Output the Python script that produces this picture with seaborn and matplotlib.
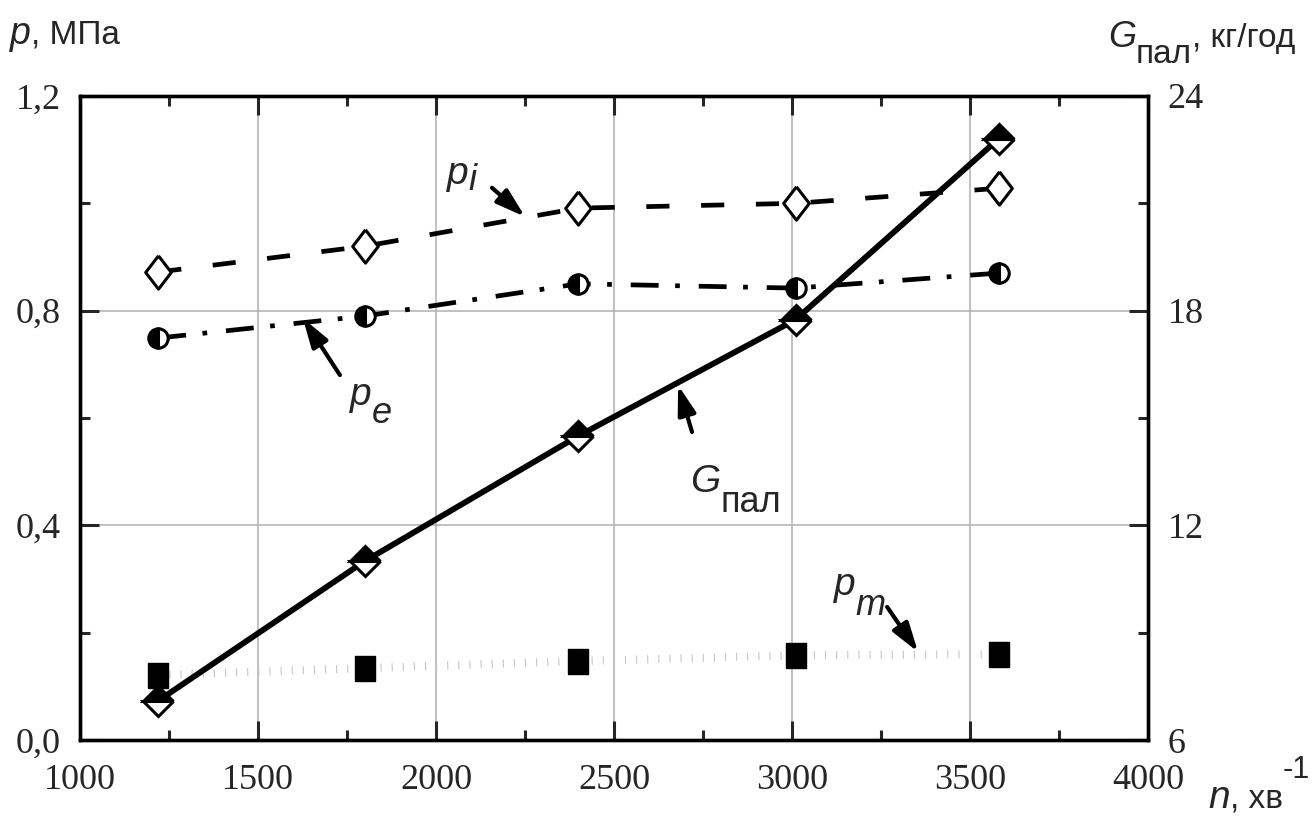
import numpy as np
import matplotlib
matplotlib.use("Agg")
import matplotlib.pyplot as plt
import seaborn as sns
from matplotlib.ticker import MultipleLocator, FuncFormatter
from matplotlib.transforms import IdentityTransform

# Data
n = [1220, 1800, 2400, 3010, 3580]
p_i = [0.872, 0.920, 0.991, 1.000, 1.028]
p_e = [0.749, 0.790, 0.850, 0.842, 0.870]
p_m = [0.121, 0.134, 0.147, 0.158, 0.160]
G_pal = [7.1, 11.0, 14.5, 17.75, 22.8]

x_ticks = [1000, 1500, 2000, 2500, 3000, 3500, 4000]
p_ticks = [0.0, 0.4, 0.8, 1.2]
g_ticks = [6, 12, 18, 24]

W, H = 1316, 816

sns.set_style("white")
plt.rcParams['font.family'] = ['Liberation Sans', 'DejaVu Sans']

fig = plt.figure(figsize=(W / 100, H / 100), dpi=100)
ax = fig.add_axes([0.0608, 0.0931, 0.8116, 0.7893])
ax2 = ax.twinx()

# custom marker shapes
tall_diamond = [(0, 1), (0.77, 0), (0, -1), (-0.77, 0), (0, 1)]
tall_square = [(-0.4, -0.5), (0.4, -0.5), (0.4, 0.5), (-0.4, 0.5), (-0.4, -0.5)]

# p_m : dotted grey line with black squares
sns.lineplot(x=n, y=p_m, ax=ax, color='#c4c4c4', lw=5.8,
             linestyle=(0, (0.13, 1.25)), dash_capstyle='butt',
             marker=tall_square, markersize=18, markerfacecolor='k',
             markeredgecolor='k', markeredgewidth=1, zorder=3)
# p_e : dash-dot line with half-filled circles
sns.lineplot(x=n, y=p_e, ax=ax, color='k', lw=3.4,
             linestyle=(0, (5.9, 3.5, 1.0, 4.0)), dash_capstyle='butt',
             marker='o', markersize=14, fillstyle='left',
             markerfacecolor='k', markerfacecoloralt='white',
             markeredgecolor='k', markeredgewidth=2.2, zorder=4)
# p_i : dashed line with open diamonds
sns.lineplot(x=n, y=p_i, ax=ax, color='k', lw=3.4,
             linestyle=(0, (4.9, 6.7)), dash_capstyle='butt',
             marker=tall_diamond, markersize=24, markerfacecolor='white',
             markeredgecolor='k', markeredgewidth=2.2, zorder=4)
# G_pal on the right axis
sns.lineplot(x=n, y=G_pal, ax=ax2, color='k', lw=4.2,
             marker='D', markersize=15, fillstyle='top',
             markerfacecolor='k', markerfacecoloralt='white',
             markeredgecolor='k', markeredgewidth=2.2, zorder=4)

# axes limits and ticks
ax.set_xlim(1000, 4000)
ax.set_ylim(0, 1.2)
ax2.set_ylim(6, 24)
ax.set_xticks(x_ticks)
ax.set_yticks(p_ticks)
ax2.set_yticks(g_ticks)
ax.xaxis.set_minor_locator(MultipleLocator(250))
ax.yaxis.set_minor_locator(MultipleLocator(0.2))
ax2.yaxis.set_minor_locator(MultipleLocator(3))
ax.yaxis.set_major_formatter(FuncFormatter(lambda v, p: f"{v:.1f}".replace('.', ',')))
ax.set_xlabel('')
ax.set_ylabel('')
ax2.set_ylabel('')

ax.grid(True, which='major', color='#b0b0b0', lw=1.1)
ax.set_axisbelow(True)

ax.tick_params(axis='x', which='both', direction='in', top=True, bottom=True,
               width=2.2, pad=17)
ax.tick_params(axis='x', which='major', length=14)
ax.tick_params(axis='x', which='minor', length=7)
ax.tick_params(axis='y', which='both', direction='in', left=True, right=False,
               width=2.2, pad=14)
ax.tick_params(axis='y', which='major', length=14)
ax.tick_params(axis='y', which='minor', length=7)
ax2.tick_params(axis='y', which='both', direction='in', right=True, left=False,
                width=2.2, pad=14)
ax2.tick_params(axis='y', which='major', length=14)
ax2.tick_params(axis='y', which='minor', length=7)
for lab in ax.get_xticklabels() + ax.get_yticklabels() + ax2.get_yticklabels():
    lab.set_fontfamily('Liberation Serif')
    lab.set_fontsize(26)

for a in (ax, ax2):
    for s in a.spines.values():
        s.set_linewidth(2.4)
        s.set_color('k')

renderer = fig.canvas.get_renderer()


def chain_text(parts, x0, base):
    """Place text pieces one after another; x0/base in image pixels (top-left origin).
    Each part: (text, size, italic, drop_px)."""
    x = x0
    for txt, size, italic, drop in parts:
        t = fig.text(x, H - base - drop, txt, fontsize=size,
                     style='italic' if italic else 'normal',
                     ha='left', va='baseline', transform=IdentityTransform(),
                     zorder=6)
        x = t.get_window_extent(renderer).x1


# axis titles
chain_text([('p', 27, True, 0), (', МПа', 24, False, 0)], 10, 44)
chain_text([('G', 26, True, 0), ('пал', 24, False, 16), (', кг/год', 24, False, 0)], 1108, 47)
chain_text([('n', 28, True, 0), (', хв', 24, False, 0), ('-1', 22, False, -30)], 1208, 808)

# curve labels (pixel positions of the reference)
chain_text([('p', 28, True, 0), ('i', 26, True, 6)], 447, 184)
chain_text([('p', 28, True, 0), ('e', 26, True, 18)], 350, 405)
chain_text([('G', 28, True, 0), ('пал', 26, False, 20)], 690, 492)
chain_text([('p', 28, True, 0), ('m', 26, True, 20)], 834, 595)

# arrows pointing to the curves
arrow = dict(arrowstyle='-|>,head_length=0.8,head_width=0.25', lw=3,
             color='k', shrinkA=0, shrinkB=0, mutation_scale=22)
arrows = [
    ((2157, 1.029), (2250, 0.975)),
    ((1730, 0.680), (1626, 0.786)),
    ((2719, 0.574), (2680, 0.661)),
    ((3267, 0.248), (3354, 0.164)),
]
for tail, head in arrows:
    ax.annotate('', xy=head, xytext=tail, arrowprops=arrow, zorder=6)

fig.savefig('out.png', dpi=100)
